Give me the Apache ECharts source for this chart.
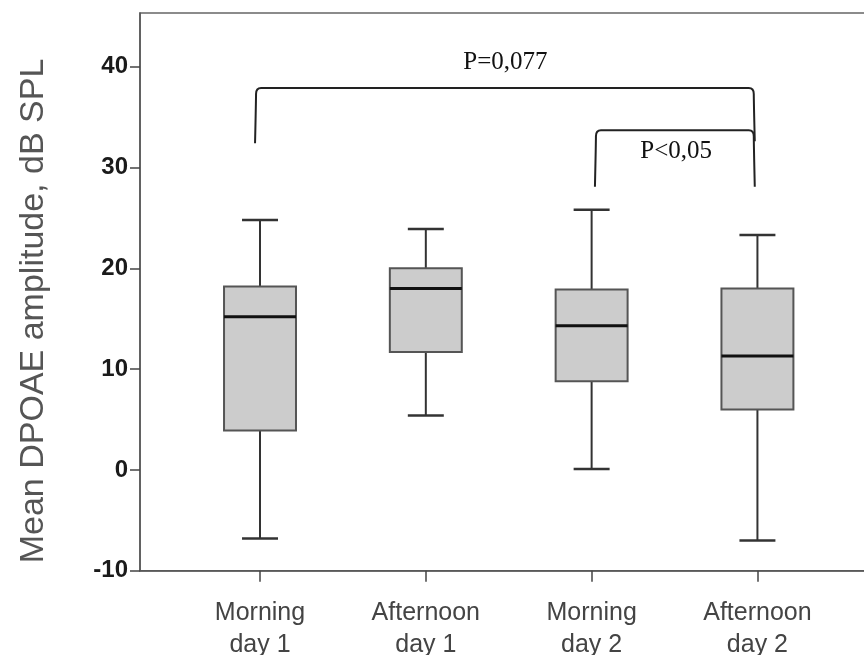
<!DOCTYPE html>
<html>
<head>
<meta charset="utf-8">
<script src="https://cdn.jsdelivr.net/npm/echarts@6/dist/echarts.min.js"></script>
<style>html,body{margin:0;padding:0;background:#fff}#c{width:864px;height:655px}</style>
</head>
<body>
<div id="c"></div>
<script>
// ---- data ----
const categories = ['Morning\nday 1', 'Afternoon\nday 1', 'Morning\nday 2', 'Afternoon\nday 2'];
const whiskerLow  = [-6.8, 5.4, 0.1, -7.0];
const q1Values    = [3.9, 11.7, 8.8, 6.0];
const medians     = [15.2, 18.0, 14.3, 11.3];
const q3Values    = [18.2, 20.0, 17.9, 18.0];
const whiskerHigh = [24.8, 23.9, 25.8, 23.3];
const yTicks = [-10, 0, 10, 20, 30, 40];
const yTitle = 'Mean DPOAE amplitude, dB SPL';
// comparison brackets: [fromX, toX, topY, leftBottomY, rightBottomY]
const bracketFrom   = [0.97, 3.02];
const bracketTo     = [3.984, 3.984];
const bracketTop    = [37.9, 33.7];
const bracketLeftLo = [32.4, 28.1];
const bracketRightLo= [32.6, 28.1];
const pLabels  = ['P=0,077', 'P<0,05'];
const pLabelX  = [2.48, 3.51];
const pLabelY  = [40.45, 31.55];

const boxRows = categories.map((c, i) => [i + 1, whiskerLow[i], q1Values[i], medians[i], q3Values[i], whiskerHigh[i]]);
const bracketRows = bracketFrom.map((f, i) => [f, bracketTo[i], bracketTop[i], bracketLeftLo[i], bracketRightLo[i]]);
const labelRows = pLabels.map((t, i) => [pLabelX[i], pLabelY[i], t]);

const chart = echarts.init(document.getElementById('c'), null, {renderer: 'canvas'});
const BOX_W = 0.434, CAP_W = 0.217;

chart.setOption({
  animation: false,
  backgroundColor: '#fff',
  grid: {left: 140, top: 13, bottom: 84.3, right: -40, containLabel: false, outerBoundsMode: 'none',
         show: true, borderColor: '#666', borderWidth: 1.5},
  xAxis: {
    type: 'value', min: 0.2762, max: 4.884,
    splitLine: {show: false},
    axisLine: {show: true, onZero: false, lineStyle: {color: '#555', width: 1.5}},
    axisTick: {show: true, length: 11, lineStyle: {color: '#444', width: 1.5}, customValues: [1, 2, 3, 4]},
    axisLabel: {
      customValues: [1, 2, 3, 4],
      formatter: v => categories[Math.round(v) - 1] || '',
      margin: 26, fontFamily: 'Liberation Sans, Arial', fontSize: 25, lineHeight: 32, color: '#444'
    }
  },
  yAxis: {
    type: 'value', min: -10, max: 45.33,
    splitLine: {show: false},
    axisLine: {show: true, onZero: false, lineStyle: {color: '#555', width: 1.5}},
    axisTick: {show: true, length: 10, lineStyle: {color: '#444', width: 1.5}, customValues: yTicks},
    axisLabel: {
      customValues: yTicks,
      formatter: v => (yTicks.indexOf(v) >= 0 ? String(v) : ''),
      margin: 12, fontFamily: 'Liberation Sans, Arial', fontWeight: 'bold', fontSize: 24, color: '#1a1a1a'
    }
  },
  graphic: [{
    type: 'text', x: 34, y: 311, rotation: Math.PI / 2,
    style: {text: yTitle, fontFamily: 'Liberation Sans, Arial', fontSize: 34, fill: '#555',
            align: 'center', verticalAlign: 'middle'}
  }],
  series: [
    {
      type: 'custom', data: boxRows,
      encode: {x: 0, y: [1, 2, 3, 4, 5]},
      renderItem: function (params, api) {
        const x = api.value(0);
        const lo = api.coord([x, api.value(1)]);
        const q1 = api.coord([x, api.value(2)]);
        const md = api.coord([x, api.value(3)]);
        const q3 = api.coord([x, api.value(4)]);
        const hi = api.coord([x, api.value(5)]);
        const bw = api.size([BOX_W, 0])[0];
        const cw = api.size([CAP_W, 0])[0];
        const cx = md[0];
        const ln = {stroke: '#333', lineWidth: 2};
        return {type: 'group', children: [
          {type: 'line', shape: {x1: cx, y1: hi[1], x2: cx, y2: q3[1]}, style: ln},
          {type: 'line', shape: {x1: cx, y1: q1[1], x2: cx, y2: lo[1]}, style: ln},
          {type: 'line', shape: {x1: cx - cw / 2, y1: hi[1], x2: cx + cw / 2, y2: hi[1]}, style: {stroke: '#333', lineWidth: 2.5}},
          {type: 'line', shape: {x1: cx - cw / 2, y1: lo[1], x2: cx + cw / 2, y2: lo[1]}, style: {stroke: '#333', lineWidth: 2.5}},
          {type: 'rect', shape: {x: cx - bw / 2, y: q3[1], width: bw, height: q1[1] - q3[1]},
           style: {fill: '#cccccc', stroke: '#555', lineWidth: 2}},
          {type: 'line', shape: {x1: cx - bw / 2, y1: md[1], x2: cx + bw / 2, y2: md[1]}, style: {stroke: '#111', lineWidth: 3}}
        ]};
      }
    },
    {
      type: 'custom', data: bracketRows,
      encode: {x: [0, 1], y: [2, 3, 4]},
      renderItem: function (params, api) {
        const a = api.coord([api.value(0), api.value(2)]);
        const b = api.coord([api.value(1), api.value(2)]);
        const la = api.coord([api.value(0), api.value(3)]);
        const rb = api.coord([api.value(1), api.value(4)]);
        const r = 6;
        const p = 'M' + la[0] + ' ' + la[1] +
          ' Q' + (a[0] + 1) + ' ' + (a[1] + r * 2) + ' ' + (a[0] + 1) + ' ' + (a[1] + r) +
          ' Q' + (a[0] + 1) + ' ' + a[1] + ' ' + (a[0] + r) + ' ' + a[1] +
          ' L' + (b[0] - r) + ' ' + b[1] +
          ' Q' + (b[0] - 1) + ' ' + b[1] + ' ' + (b[0] - 1) + ' ' + (b[1] + r) +
          ' Q' + (b[0] - 1) + ' ' + (b[1] + r * 2) + ' ' + rb[0] + ' ' + rb[1];
        return {type: 'path', shape: {pathData: p}, style: {stroke: '#222', lineWidth: 2, fill: null}};
      }
    },
    {
      type: 'custom', data: labelRows,
      encode: {x: 0, y: 1},
      renderItem: function (params, api) {
        const pt = api.coord([api.value(0), api.value(1)]);
        return {type: 'text', x: pt[0], y: pt[1],
          style: {text: pLabels[params.dataIndex], fontFamily: 'Liberation Serif, Times New Roman', fontSize: 25,
                  fill: '#111', align: 'center', verticalAlign: 'middle'}};
      }
    }
  ]
});
</script>
</body>
</html>
